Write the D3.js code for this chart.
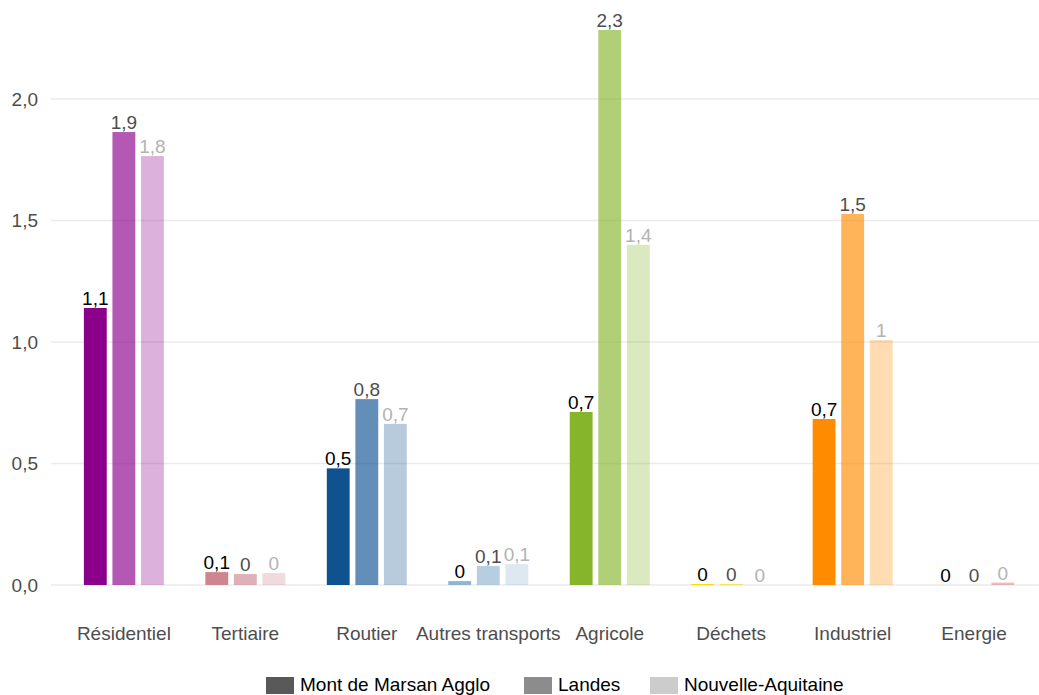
<!DOCTYPE html>
<html>
<head>
<meta charset="utf-8">
<script src="https://cdn.jsdelivr.net/npm/d3@7"></script>
<style>
  body { margin: 0; background: #fff; }
  text { font-family: "Liberation Sans", Arial, sans-serif; }
</style>
</head>
<body>
<div id="chart"></div>
<script>
// data
var categories = ["Résidentiel", "Tertiaire", "Routier", "Autres transports", "Agricole", "Déchets", "Industriel", "Energie"];
var series = ["Mont de Marsan Agglo", "Landes", "Nouvelle-Aquitaine"];
var montDeMarsan = [1.14, 0.053, 0.48, 0.016, 0.712, 0.004, 0.683, 0];
var landes = [1.864, 0.045, 0.765, 0.078, 2.284, 0.004, 1.527, 0];
var nouvelleAquitaine = [1.765, 0.049, 0.663, 0.086, 1.40, 0, 1.008, 0.01];
var yTicks = [0, 0.5, 1, 1.5, 2];

var catColors = ["#8B008B", "#CD8590", "#105290", "#8FB4CF", "#86B52C", "#FFD700", "#FF8C00", "#D41E2A"];
var seriesAlpha = [1, 0.65, 0.3];
var labelColors = ["#000000", "#4D4D4D", "#B3B3B3"];
var legendColors = ["#595959", "#8C8C8C", "#CCCCCC"];

var width = 1039, height = 695;
var margin = {top: 0, left: 51, bottom: 110};

var svg = d3.select("#chart")
  .append("svg")
    .attr("width", width)
    .attr("height", height);

var x = d3.scalePoint()
  .domain(categories)
  .range([51, 1047])
  .padding(0.6);

var xInner = d3.scaleBand()
  .domain(series)
  .range([-40, 40])
  .paddingInner(0.2);

var y = d3.scaleLinear()
  .domain([0, 2])
  .range([585, 99]);

// grid
svg.append("g")
  .selectAll("line")
  .data(yTicks)
  .enter()
  .append("line")
    .attr("x1", margin.left)
    .attr("x2", width)
    .attr("y1", function(d) { return y(d); })
    .attr("y2", function(d) { return y(d); })
    .attr("stroke", "#EBEBEB")
    .attr("stroke-width", 1.6);

// y tick labels
svg.append("g")
  .selectAll("text")
  .data(yTicks)
  .enter()
  .append("text")
    .attr("x", 38)
    .attr("y", function(d) { return y(d); })
    .attr("dy", "0.36em")
    .attr("text-anchor", "end")
    .attr("fill", "#4D4D4D")
    .style("font-size", "19px")
    .text(function(d) { return d3.format(".1f")(d).replace(".", ","); });

// x labels
svg.append("g")
  .selectAll("text")
  .data(categories)
  .enter()
  .append("text")
    .attr("x", function(d) { return x(d); })
    .attr("y", 640)
    .attr("text-anchor", "middle")
    .attr("fill", "#4D4D4D")
    .style("font-size", "19px")
    .text(function(d) { return d; });

var rows = [];
var allSeries = [montDeMarsan, landes, nouvelleAquitaine];
categories.forEach(function(c, i) {
  series.forEach(function(s, j) {
    rows.push({cat: c, ci: i, serie: s, si: j, value: allSeries[j][i]});
  });
});

function fmt(v) {
  return String(Math.round(v * 10) / 10).replace(".", ",");
}

svg.append("g")
  .selectAll("rect")
  .data(rows)
  .enter()
  .append("rect")
    .attr("x", function(d) { return x(d.cat) + xInner(d.serie); })
    .attr("width", xInner.bandwidth())
    .attr("y", function(d) { return y(d.value); })
    .attr("height", function(d) { return y(0) - y(d.value); })
    .attr("fill", function(d) { return catColors[d.ci]; })
    .attr("fill-opacity", function(d) { return seriesAlpha[d.si]; });

svg.append("g")
  .selectAll("text")
  .data(rows)
  .enter()
  .append("text")
    .attr("x", function(d) { return x(d.cat) + xInner(d.serie) + xInner.bandwidth() / 2; })
    .attr("y", function(d) { return y(d.value) - 3; })
    .attr("text-anchor", "middle")
    .attr("fill", function(d) { return labelColors[d.si]; })
    .style("font-size", "19px")
    .text(function(d) { return fmt(d.value); });

// legend
var legendX = [266, 524, 650];
var legend = svg.append("g")
  .selectAll("g")
  .data(series)
  .enter()
  .append("g")
    .attr("transform", function(d, i) { return "translate(" + legendX[i] + ",677)"; });

legend.append("rect")
  .attr("width", 28)
  .attr("height", 17)
  .attr("fill", function(d, i) { return legendColors[i]; });

legend.append("text")
  .attr("x", 34)
  .attr("y", 14)
  .attr("fill", "#000")
  .style("font-size", "19px")
  .text(function(d) { return d; });
</script>
</body>
</html>
